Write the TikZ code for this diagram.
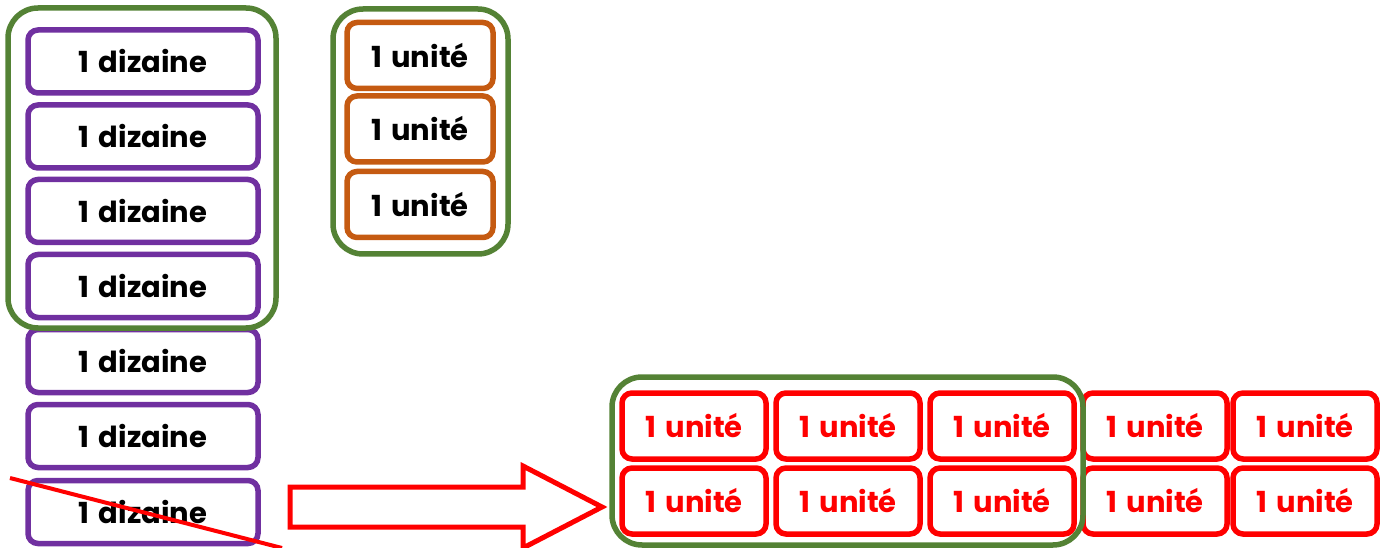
\documentclass[tikz,border=0pt]{standalone}
\usepackage{fontspec}
\setmainfont{Poppins}
\begin{document}
\begin{tikzpicture}[x=1pt,y=-1pt,
  every node/.style={font=\fontsize{29}{32}\selectfont\bfseries},
  diz/.style={draw=purplec,line width=5.5pt,rounded corners=10pt,minimum width=230pt,minimum height=63pt,inner sep=0pt},
  uni/.style={draw=orangec,line width=5.5pt,rounded corners=10pt,minimum width=146pt,minimum height=66pt,inner sep=0pt},
  runi/.style={draw=red,text=red,line width=5.5pt,rounded corners=10pt,minimum width=144pt,minimum height=66pt,inner sep=0pt},
  grp/.style={draw=greenc,line width=5.5pt,rounded corners=30pt}]
\definecolor{purplec}{HTML}{7030A0}
\definecolor{greenc}{HTML}{548235}
\definecolor{orangec}{HTML}{C55A11}
\useasboundingbox (0,0) rectangle (1385,548);
% dizaines
\foreach \i/\y in {1/61.5,2/136.5,3/211,4/286,5/361,6/436,7/512}
  \node[diz] (d\i) at (143,\y) {1\hspace{0.32em}dizaine};
\draw[grp] (8,8) rectangle (276,328);
% unites
\foreach \i/\y in {1/55.5,2/129,3/204.5}
  \node[uni] (u\i) at (420,\y) {1\hspace{0.32em}unité};
\draw[grp] (333,9) rectangle (508,254);
% strike
\coordinate (s1) at (10,478);
\coordinate (s2) at (282,548);
\draw[red,line width=4pt] (s1) -- (s2);
% arrow
\draw[red,line width=5pt,line join=miter] (290,487) -- (523,487) -- (523,466) -- (602,507) -- (523,548) -- (523,527) -- (290,527) -- cycle;
% red unites
\foreach \j/\x in {1/694,2/848,3/1002,4/1155,5/1305}{
  \node[runi] (r1\j) at (\x,426) {1\hspace{0.32em}unité};
  \node[runi] (r2\j) at (\x,501) {1\hspace{0.32em}unité};
}
\draw[grp] (612,377) rectangle (1083,545);
\end{tikzpicture}
\end{document}
